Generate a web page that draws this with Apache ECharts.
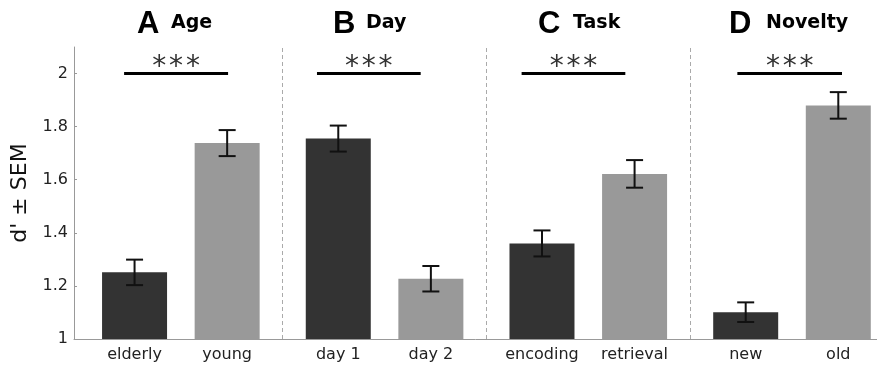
<!DOCTYPE html>
<html><head><meta charset="utf-8">
<script src="https://cdn.jsdelivr.net/npm/echarts@6/dist/echarts.min.js"></script>
<style>html,body{margin:0;padding:0;background:#fff}#c{width:877px;height:368px}</style>
</head><body><div id="c"></div>
<script>
// ---- data ----
const categories = ['elderly', 'young', 'day 1', 'day 2', 'encoding', 'retrieval', 'new', 'old'];
const positions = [1, 2, 3.2, 4.2, 5.4, 6.4, 7.6, 8.6];
const means = [1.251, 1.738, 1.755, 1.227, 1.360, 1.622, 1.101, 1.880];
const sems = [0.048, 0.049, 0.049, 0.048, 0.049, 0.052, 0.037, 0.050];
const groupShade = ['dark', 'light', 'dark', 'light', 'dark', 'light', 'dark', 'light'];
const panelLetters = ['A', 'B', 'C', 'D'];
const panelNames = ['Age', 'Day', 'Task', 'Novelty'];
const sigSpans = [[0.887, 2.01], [2.97, 4.09], [5.18, 6.30], [7.51, 8.64]];
const sigLevel = 2.0;
const sigLabel = '***';
const separators = [2.6, 4.8, 7.0];
const yTicks = [1, 1.2, 1.4, 1.6, 1.8, 2];

// ---- styles / layout ----
const shadeColor = { dark: '#333333', light: '#999999' };
const F = 'DejaVu Sans';
const titleLeft = [137, 333, 538, 729];
const nameLeft = [171, 366, 573, 766];

const chart = echarts.init(document.getElementById('c'), null, { renderer: 'canvas' });

const graphics = [];
panelLetters.forEach((l, i) => {
  graphics.push({ type: 'text', x: titleLeft[i], y: 24, style: { text: l, font: 'bold 31px "Liberation Sans"', fill: '#000', verticalAlign: 'middle', align: 'left' } });
  graphics.push({ type: 'text', x: nameLeft[i], y: 23, style: { text: panelNames[i], font: 'bold 19px "DejaVu Sans"', fill: '#000', verticalAlign: 'middle', align: 'left' } });
});

const option = {
  animation: false,
  grid: { left: 74, right: 0, top: 47, bottom: 29, containLabel: false },
  xAxis: {
    type: 'value', min: 0.346, max: 9.018,
    splitLine: { show: false },
    axisLine: { show: true, lineStyle: { color: '#999', width: 1 } },
    axisTick: { show: false },
    axisLabel: {
      customValues: positions,
      formatter: v => { const i = positions.findIndex(p => Math.abs(p - v) < 1e-6); return i >= 0 ? categories[i] : ''; },
      color: '#222', fontSize: 16, fontFamily: F, margin: 8
    }
  },
  yAxis: {
    type: 'value', min: 1, max: 2.1,
    splitLine: { show: false },
    axisLine: { show: true, lineStyle: { color: '#999', width: 1 } },
    axisTick: { show: true, inside: true, length: 3, customValues: yTicks, lineStyle: { color: '#999' } },
    axisLabel: { customValues: yTicks, color: '#222', fontSize: 16, fontFamily: F, margin: 6 },
    name: "d' \u00b1 SEM", nameLocation: 'middle', nameGap: 38,
    nameTextStyle: { fontSize: 22, fontFamily: F, color: '#111' }
  },
  series: [
    {
      type: 'bar', barWidth: 65, clip: true, z: 2,
      data: positions.map((p, i) => ({ value: [p, means[i]], itemStyle: { color: shadeColor[groupShade[i]] } })),
      markLine: {
        silent: true, symbol: 'none', label: { show: false },
        lineStyle: { type: [4, 3], color: '#aaa', width: 1 },
        data: separators.map(x => ({ xAxis: x }))
      }
    },
    {
      type: 'custom', clip: false, z: 10,
      dimensions: ['x', 'lo', 'hi'],
      encode: { x: 0, y: [1, 2] },
      data: positions.map((p, i) => [p, means[i] - sems[i], means[i] + sems[i]]),
      renderItem: (params, api) => {
        const a = api.coord([api.value(0), api.value(1)]);
        const b = api.coord([api.value(0), api.value(2)]);
        const w = 8.5;
        const st = { stroke: '#111', lineWidth: 2 };
        return { type: 'group', children: [
          { type: 'line', shape: { x1: a[0], y1: a[1], x2: b[0], y2: b[1] }, style: st },
          { type: 'line', shape: { x1: a[0] - w, y1: a[1], x2: a[0] + w, y2: a[1] }, style: st },
          { type: 'line', shape: { x1: b[0] - w, y1: b[1], x2: b[0] + w, y2: b[1] }, style: st }
        ] };
      }
    },
    {
      type: 'custom', clip: false, z: 10,
      dimensions: ['x1', 'x2', 'y'],
      encode: { x: [0, 1], y: 2 },
      data: sigSpans.map(s => [s[0], s[1], sigLevel]),
      renderItem: (params, api) => {
        const a = api.coord([api.value(0), api.value(2)]);
        const b = api.coord([api.value(1), api.value(2)]);
        return { type: 'group', children: [
          { type: 'line', shape: { x1: a[0], y1: a[1], x2: b[0], y2: b[1] }, style: { stroke: '#000', lineWidth: 3 } },
          { type: 'text', style: { text: sigLabel.split('').join('\u200a'), x: (a[0] + b[0]) / 2, y: a[1] - 5.5, align: 'center', verticalAlign: 'middle', font: '28px "DejaVu Sans"', fill: '#333' } }
        ] };
      }
    }
  ],
  graphic: graphics
};
chart.setOption(option);
</script></body></html>
